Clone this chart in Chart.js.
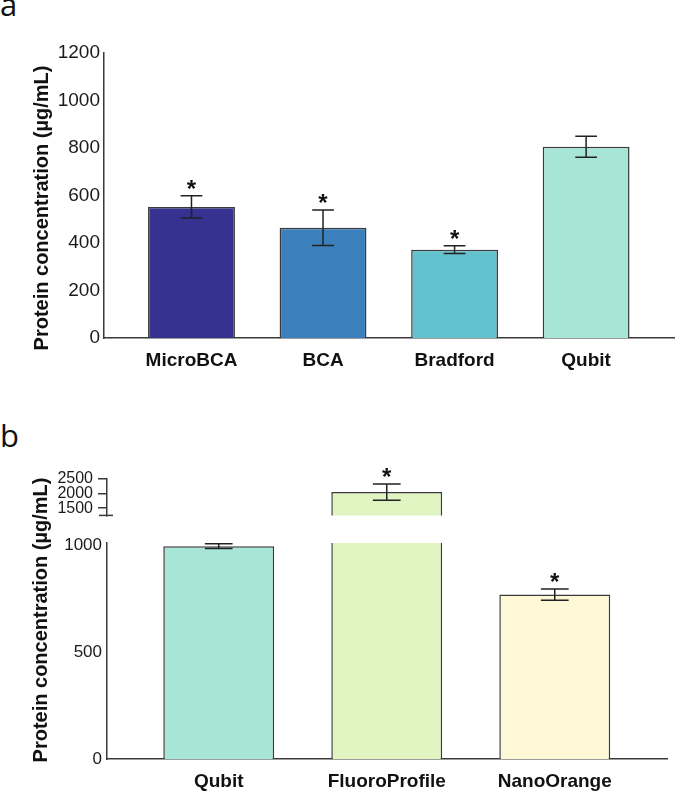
<!DOCTYPE html>
<html>
<head>
<meta charset="utf-8">
<script src="https://cdn.jsdelivr.net/npm/chart.js@4"></script>
<style>
  body { margin: 0; background: #fff; }
  #page { position: relative; width: 675px; height: 792px; overflow: hidden; }
  .box { position: absolute; left: 0; width: 675px; }
  .tag { position: absolute; left: 0; font: 31px "Open Sans", sans-serif; line-height: 1; color: #111; }
</style>
</head>
<body>
<div id="page">
  <div class="tag" style="top:-11px">a</div>
  <div class="tag" style="top:420px">b</div>
  <div class="box" style="top:0;height:380px"><canvas id="chartA"></canvas></div>
  <div class="box" style="top:455px;height:337px"><canvas id="chartBLow"></canvas></div>
  <div class="box" style="top:455px;height:75px;z-index:2"><canvas id="chartBHigh"></canvas></div>
</div>
<script>
// panel a
const catsA = ["MicroBCA", "BCA", "Bradford", "Qubit"];
const meanA = [552, 464, 372, 805];
const errA = [47, 75, 16, 44];
const sigA = [true, true, true, false];
const ticksA = [0, 200, 400, 600, 800, 1000, 1200];

// panel b (broken axis)
const catsB = ["Qubit", "FluoroProfile", "NanoOrange"];
const meanB = [998, 2050, 771];
const errB = [11, 282, 26];
const sigB = [false, true, true];
const ticksBLow = [0, 500, 1000];
const ticksBHigh = [1500, 2000, 2500];

const colorsA = ["#35338f", "#3b80bc", "#63c2ce", "#a7e6d6"];
const colorsB = ["#a7e6d6", "#e0f5c1", "#fff8d7"];
const edge = "#3a3a3a";
const yTitle = "Protein concentration (µg/mL)";

Chart.defaults.font.family = '"Liberation Sans", Arial, sans-serif';
Chart.defaults.color = "#1a1a1a";

// error bars, asterisks, axis break mark and the rotated y title
const extras = {
    id: "extras",
    afterDatasetsDraw(chart, args, o) {
        const ctx = chart.ctx;
        const y = chart.scales.y;
        const meta = chart.getDatasetMeta(0);
        ctx.save();
        ctx.strokeStyle = "#222";
        ctx.fillStyle = "#111";
        ctx.lineWidth = 1.5;
        ctx.font = 'bold 24px "Liberation Sans", Arial, sans-serif';
        ctx.textAlign = "center";
        meta.data.forEach((bar, i) => {
            const m = o.means[i];
            if (m < y.min || m > y.max) return;
            const top = y.getPixelForValue(m + o.errs[i]);
            const bot = y.getPixelForValue(m - o.errs[i]);
            const half = bar.width * 0.125;
            ctx.beginPath();
            ctx.moveTo(bar.x, top); ctx.lineTo(bar.x, bot);
            ctx.moveTo(bar.x - half, top); ctx.lineTo(bar.x + half, top);
            ctx.moveTo(bar.x - half, bot); ctx.lineTo(bar.x + half, bot);
            ctx.stroke();
            if (o.sig[i]) ctx.fillText("*", bar.x, top + 1);
        });
        if (o.breakMark) {
            const a = chart.chartArea;
            ctx.strokeStyle = edge;
            ctx.beginPath();
            ctx.moveTo(a.left - 8, a.bottom);
            ctx.lineTo(a.left + 6, a.bottom);
            ctx.stroke();
        }
        if (o.title) {
            ctx.translate(o.titleX, o.titleY);
            ctx.rotate(-Math.PI / 2);
            ctx.font = 'bold 20px "Liberation Sans", Arial, sans-serif';
            ctx.textBaseline = "middle";
            ctx.fillText(o.title, 0, 0);
        }
        ctx.restore();
    }
};

function barChart(id, cats, means, colors, cfg) {
    return new Chart(document.getElementById(id), {
        type: "bar",
        data: {
            datasets: [{
                data: cats.map((c, i) => ({ x: i + 1, y: means[i] })),
                backgroundColor: colors,
                borderColor: edge,
                borderWidth: 1.5,
                barPercentage: 0.66,
                categoryPercentage: 1,
                clip: 0
            }]
        },
        options: {
            responsive: true,
            maintainAspectRatio: false,
            animation: false,
            layout: { padding: cfg.padding },
            scales: {
                x: {
                    type: "linear",
                    display: cfg.showX,
                    offset: false,
                    min: 1 - 0.665,
                    max: cats.length + 0.668,
                    afterFit: (s) => { s.height = cfg.xHeight; },
                    afterBuildTicks: (s) => { s.ticks = cats.map((c, i) => ({ value: i + 1 })); },
                    ticks: {
                        callback: (v) => cats[v - 1],
                        font: { size: 19, weight: "bold" },
                        color: "#111",
                        padding: 11,
                        autoSkip: false,
                        maxRotation: 0
                    },
                    grid: { display: false, drawTicks: false, offset: false },
                    border: { color: edge, width: 1.5 }
                },
                y: {
                    min: cfg.min,
                    max: cfg.max,
                    afterFit: (s) => { s.width = cfg.yWidth; },
                    afterBuildTicks: (s) => { s.ticks = cfg.ticks.map((v) => ({ value: v })); },
                    ticks: {
                        callback: (v) => String(v),
                        font: { size: cfg.tickSize },
                        padding: cfg.tickPad,
                        autoSkip: false
                    },
                    grid: cfg.tickMarks
                        ? { drawOnChartArea: false, drawTicks: true, tickLength: 9, color: edge, lineWidth: 1.5 }
                        : { display: false, drawTicks: false },
                    border: { color: edge, width: 1.5 }
                }
            },
            plugins: {
                legend: { display: false },
                tooltip: { enabled: false },
                extras: cfg.extras
            }
        },
        plugins: [extras]
    });
}

barChart("chartA", catsA, meanA, colorsA, {
    padding: { left: 0, right: 1, top: 53, bottom: 0 },
    showX: true, xHeight: 42, yWidth: 104,
    min: 0, max: 1200, ticks: ticksA, tickSize: 19, tickPad: 4, tickMarks: false,
    extras: { means: meanA, errs: errA, sig: sigA, title: yTitle, titleX: 42, titleY: 208 }
});

barChart("chartBLow", catsB, meanB, colorsB, {
    padding: { left: 0, right: 8, top: 88, bottom: 0 },
    showX: true, xHeight: 33, yWidth: 107,
    min: 0, max: 1013, ticks: ticksBLow, tickSize: 17, tickPad: 5, tickMarks: false,
    extras: { means: meanB, errs: errB, sig: sigB, title: yTitle, titleX: 41, titleY: 165 }
});

barChart("chartBHigh", catsB, meanB, colorsB, {
    padding: { left: 0, right: 8, top: 24, bottom: 7 },
    showX: false, xHeight: 0, yWidth: 107,
    min: 1250, max: 2500, ticks: ticksBHigh, tickSize: 16, tickPad: 5, tickMarks: true,
    extras: { means: meanB, errs: errB, sig: sigB, breakMark: true }
});
</script>
</body>
</html>
